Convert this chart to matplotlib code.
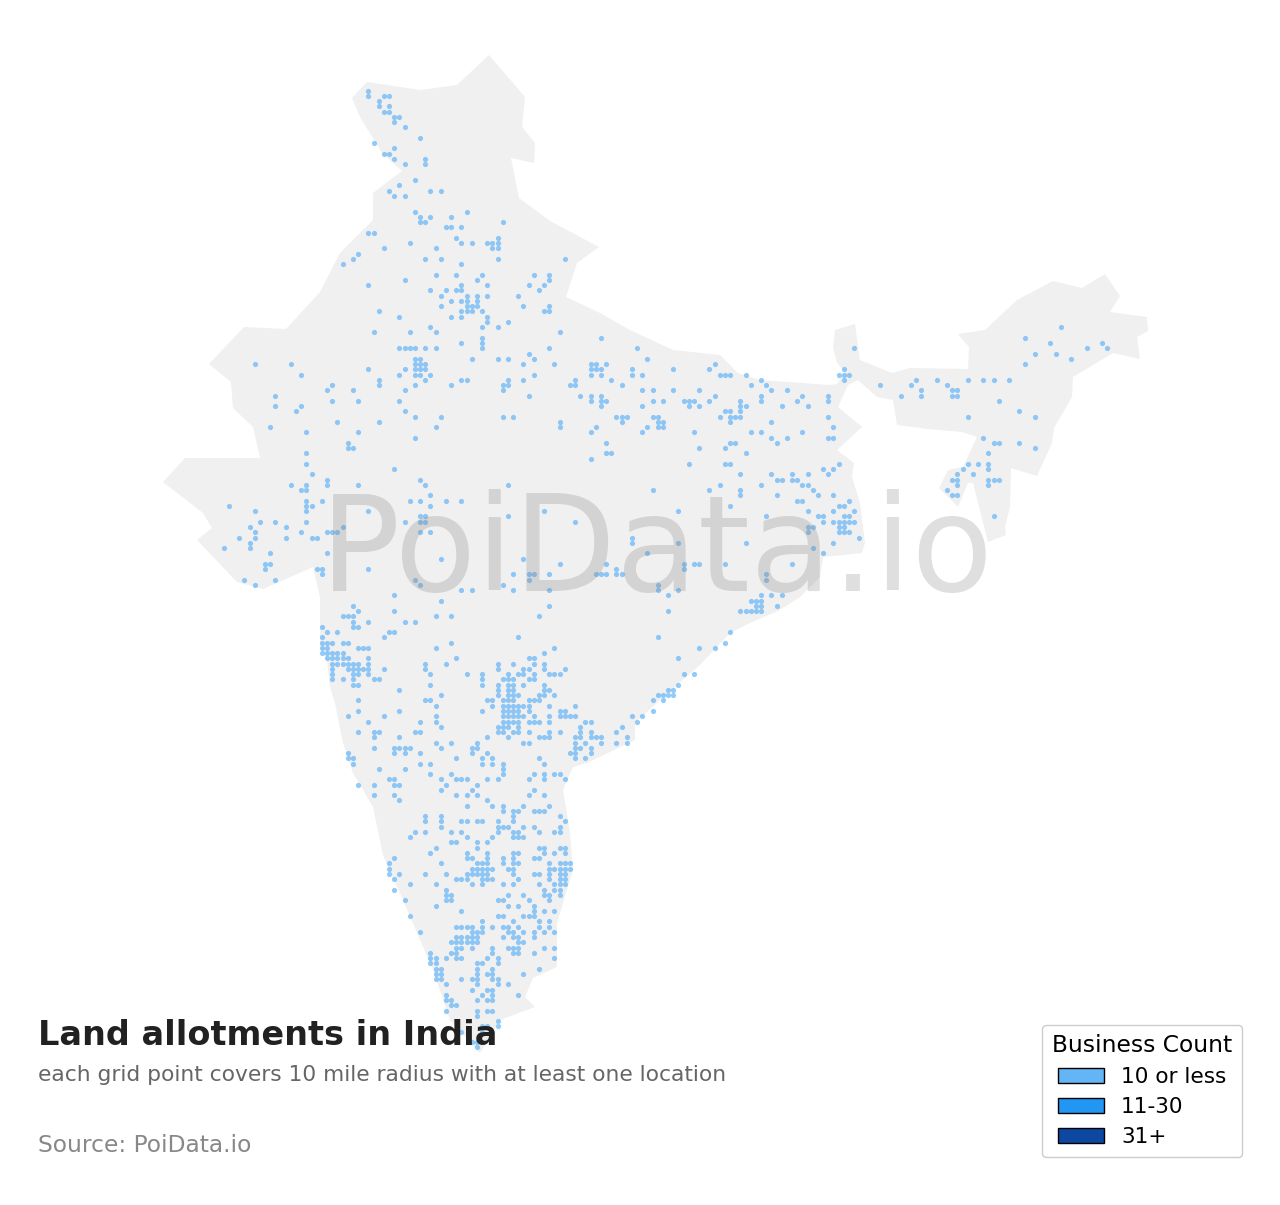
import matplotlib
matplotlib.use('Agg')
import matplotlib.pyplot as plt
from matplotlib.patches import Patch, Polygon

# outline of the country in map units
outline_x = [489, 525, 522, 535, 534, 511, 519, 550, 599, 577, 566, 600, 630, 673, 720, 738, 760, 830,
             837, 845, 837, 833, 835, 855, 860, 892, 910, 968, 969, 958, 985, 1017, 1053, 1082, 1105, 1120,
             1110, 1147, 1148, 1137, 1140, 1113, 1073, 1072, 1054, 1052, 1037, 1011, 1010, 1005, 1006, 988,
             973, 968, 958, 939, 948, 963, 977, 962, 928, 897, 893, 877, 858, 848, 838, 862, 837, 854, 852,
             860, 865, 862, 843, 823, 820, 800, 780, 750, 730, 700, 660, 635, 635, 610, 587, 573, 563, 567,
             570, 573, 567, 557, 557, 533, 525, 535, 500, 480, 450, 433, 403, 383, 373, 353, 343, 335, 330,
             327, 320, 320, 313, 263, 237, 197, 212, 203, 163, 185, 260, 253, 233, 231, 209, 244, 286, 320,
             340, 373, 373, 402, 382, 360, 352, 367, 420, 457]
outline_y = [55, 97, 127, 143, 163, 158, 198, 221, 247, 263, 297, 313, 330, 350, 355, 373, 380, 385,
             384, 372, 363, 347, 330, 324, 360, 373, 368, 369, 347, 334, 330, 300, 281, 288, 274, 296,
             312, 317, 331, 337, 359, 353, 377, 397, 428, 443, 476, 468, 507, 527, 535, 542,
             483, 483, 507, 488, 470, 467, 437, 432, 429, 425, 400, 397, 380, 385, 407, 427, 450, 463, 477,
             503, 543, 553, 555, 557, 577, 597, 610, 623, 633, 665, 700, 723, 740, 752, 763, 767, 790, 813,
             833, 870, 890, 923, 967, 978, 997, 1007, 1020, 1053, 1020, 970, 900, 855, 807, 773, 743, 703, 687,
             660, 647, 597, 567, 589, 582, 540, 528, 513, 482, 458, 458, 427, 408, 382, 364, 327, 329, 292,
             253, 220, 193, 171, 153, 117, 98, 82, 90, 85]

# occupied grid cells, row number and the columns filled in that row
north_rows = [0, 1, 2, 3, 4, 5, 6, 7, 9, 10, 11, 12, 13, 14, 17, 18, 19, 20, 23, 24, 25, 26, 27, 28, 29, 30,
              31, 32, 33, 35, 36, 37, 38, 39, 40, 41, 42, 43, 44, 45, 46, 47, 48, 49, 50, 51]
north_cols = [[42], [42, 45, 46], [44], [44, 46], [45, 46], [47, 48], [47], [49], [52], [43], [47], [45, 46],
              [47, 53], [49, 53], [51], [48], [46, 54, 56], [47, 49], [51, 61], [52, 54, 58], [52, 53, 68],
              [57, 58, 60], [42, 43], [59, 67], [50, 60, 62, 65, 66, 67], [45, 55, 66, 67], [40],
              [39, 53, 56, 67, 80], [37, 60], [55, 59, 64, 74, 77], [49, 63, 77], [42, 60, 65, 73, 76],
              [54, 57, 59, 60, 75], [56, 61, 63, 65, 71], [58, 60, 61, 63], [56, 61, 62, 63, 72, 77],
              [44, 60, 61, 62, 64, 76, 77], [48, 58, 60, 65], [65, 69], [54, 64, 67, 176], [43, 50, 55, 79],
              [64, 87, 169], [60, 64, 174, 184], [48, 49, 50, 51, 53, 55, 64, 77, 94, 136, 181, 185],
              [73, 171, 175], [51, 52, 62, 67, 69, 74, 96, 178]]

middle_rows = [52, 53, 54, 55, 56, 57, 58, 59, 60, 61, 62, 63, 64, 65, 66, 67, 68, 69, 70, 71, 72, 73, 74, 75,
               76, 77, 78, 79, 80, 81, 82, 83, 84, 85, 86, 87, 88, 89, 90, 91, 92, 93, 94, 95, 96, 97, 98, 99]
middle_cols = [[20, 27, 51, 52, 53, 72, 78, 85, 86, 88, 109, 169],
               [42, 49, 51, 52, 53, 85, 86, 87, 93, 101, 108, 134],
               [29, 48, 51, 52, 54, 74, 85, 87, 93, 95, 110, 111, 112, 115, 133, 134, 135],
               [44, 53, 60, 61, 69, 72, 82, 89, 118, 134, 148, 152, 158, 161, 163, 166],
               [35, 44, 51, 58, 68, 69, 81, 82, 91, 116, 119, 141, 147, 154],
               [34, 39, 49, 68, 95, 97, 101, 106, 120, 123, 149, 155, 156],
               [24, 73, 83, 85, 87, 109, 118, 126, 131, 145, 149, 155, 156],
               [35, 40, 48, 85, 87, 88, 97, 99, 103, 104, 105, 108, 114, 118, 125, 131, 164],
               [24, 29, 87, 95, 104, 106, 114, 115, 122, 127],
               [28, 49, 111, 112, 114, 168],
               [51, 56, 68, 70, 90, 91, 92, 97, 98, 110, 112, 113, 114, 131, 158, 171],
               [36, 44, 79, 91, 98, 99, 112, 120],
               [23, 55, 79, 86, 96, 98, 99, 132],
               [30, 40, 85, 95, 105, 116, 118, 126],
               [51, 120, 123, 131, 132, 161],
               [38, 88, 112, 113, 121, 163, 164, 168],
               [38, 39, 106, 111, 171],
               [30, 88, 89, 115, 162],
               [85],
               [30, 104, 111, 112, 133, 158, 160, 162],
               [47, 130, 132, 157, 162],
               [31, 114, 120, 124, 127, 131, 156, 159],
               [34, 52, 121, 122, 124, 125, 155, 156, 162, 163, 164],
               [27, 30, 34, 40, 53, 69, 110, 118, 126, 127, 156, 162],
               [29, 30, 97, 108, 114, 128, 154],
               [54, 114, 121, 129, 132, 155, 156],
               [30, 33, 50, 52, 57, 60, 125, 126, 135],
               [15, 30, 31, 54, 112, 133, 134],
               [20, 30, 42, 76, 102, 127, 132, 136],
               [52, 53, 69, 119, 129, 130, 134, 135, 163],
               [21, 24, 30, 49, 52, 53, 82, 130, 132, 133, 134, 135, 136],
               [19, 26, 37, 127, 128, 133, 134],
               [20, 29, 34, 35, 36, 52, 54, 127, 133, 134, 135],
               [17, 20, 26, 31, 32, 93, 137],
               [19, 93, 102, 115, 132],
               [14, 19, 128],
               [23, 34, 96, 130],
               [56, 72],
               [22, 23, 79, 88, 103, 105, 106, 111, 124],
               [22, 32, 33, 42, 90, 103],
               [33, 70, 73, 74, 77, 86, 87, 88, 90, 91, 119],
               [18, 24, 51, 73, 119],
               [20, 52, 68, 98],
               [60, 62, 70, 77, 98, 102],
               [47, 100, 118, 120, 122],
               [56, 116, 117, 118],
               [39, 77, 117, 118, 121],
               [40, 47, 100, 114, 115, 116, 117, 118]]

deccan_rows = [100, 101, 102, 103, 104, 105, 106, 107, 108, 109, 110, 111, 112, 113, 114, 115, 116, 117, 118,
               119, 120, 121, 122, 123, 124, 125, 126, 127, 128, 129, 130, 131, 132, 133, 134, 135, 136, 137, 138]
deccan_cols = [[37, 38, 39, 55, 58, 75],
               [39, 42, 49, 51],
               [33, 39, 40],
               [34, 36, 46, 47, 112],
               [33, 45, 71, 98],
               [33, 34, 35, 37, 38, 58, 111],
               [33, 34, 40, 41, 42, 55, 78, 106, 109],
               [33, 34, 35, 36, 37, 76],
               [34, 35, 36, 37, 38, 42, 59, 73, 74, 102],
               [35, 36, 37, 38, 39, 40, 42, 53, 57, 67, 70, 74, 76],
               [35, 38, 39, 40, 41, 42, 45, 53, 67, 72, 73, 76, 80],
               [35, 39, 40, 42, 54, 61, 64, 69, 71, 72, 74, 77, 78, 79, 103, 105],
               [35, 37, 39, 43, 44, 64, 68, 69, 70, 73, 74],
               [39, 40, 54, 64, 67, 69, 70, 72, 76, 102],
               [48, 67, 69, 70, 76, 77, 100, 101],
               [56, 67, 69, 70, 71, 75, 76, 78, 98, 99, 100, 101],
               [40, 53, 54, 65, 66, 68, 69, 70, 73, 74, 75, 97, 99],
               [55, 66, 68, 69, 70, 71, 72, 73, 77, 82],
               [40, 48, 64, 68, 69, 70, 71, 73, 79, 80, 97],
               [38, 45, 55, 68, 69, 70, 71, 72, 74, 77, 79, 80, 81, 82, 93, 95],
               [42, 52, 55, 68, 69, 70, 71, 73, 74, 75, 77, 84, 85, 94],
               [56, 67, 68, 69, 71, 83, 91],
               [40, 43, 44, 51, 52, 67, 68, 70, 71, 73, 77, 79, 83, 85, 90],
               [43, 48, 65, 69, 75, 76, 77, 82, 83, 85, 86, 87, 92],
               [55, 58, 63, 72, 73, 82, 84, 87, 90, 92],
               [43, 47, 48, 49, 50, 56, 62, 63, 82, 83, 85],
               [38, 47, 49, 52, 62, 65, 81, 82, 85],
               [38, 39, 59, 64, 66, 75, 82, 84],
               [39, 52, 54, 64, 66, 68, 76],
               [44, 49, 68],
               [54, 58, 68, 74, 76, 78, 79],
               [46, 47, 56, 59, 60, 61, 65, 67, 73, 76, 80],
               [40, 43, 47, 48, 57, 63],
               [56, 62, 74],
               [43, 47, 59, 61, 63, 73, 76],
               [48, 65],
               [61, 66, 68, 72, 77],
               [68, 70, 71, 74, 75, 76],
               [53, 56, 70, 79]]

south_rows = [139, 140, 141, 142, 143, 144, 145, 146, 147, 148, 149, 150, 151, 152, 153, 154, 155, 156, 157,
              158, 159, 160, 161, 162, 163, 164, 165, 166, 167, 168, 169, 170, 171, 172, 173, 174, 175, 176,
              177, 178, 179, 181, 182]
south_cols = [[53, 56, 60, 61, 63, 64, 67, 70, 80],
              [56, 67, 68, 69, 72, 74, 79],
              [51, 53, 58, 60, 67, 70, 71, 75, 78, 79],
              [50, 61, 66, 70, 71, 72],
              [58, 59, 63, 65],
              [55, 63, 75, 76, 79, 80],
              [54, 61, 65, 70, 71, 76, 78, 80],
              [47, 61, 62, 65, 68, 70, 74, 75],
              [46, 56, 63, 64, 65, 68, 70, 71, 77, 79, 80, 81],
              [46, 62, 63, 64, 65, 66, 69, 70, 77, 78, 79, 80, 81],
              [46, 48, 53, 57, 61, 62, 63, 64, 65, 70, 74, 75, 77, 79, 80],
              [47, 59, 60, 61, 64, 65, 66, 71, 77, 79, 80],
              [50, 55, 62, 64, 68, 70, 75, 78, 79, 80],
              [47, 57, 76, 78, 79],
              [57, 58, 69, 72, 76, 77, 79],
              [49, 57, 58, 67, 68, 73, 77],
              [55, 69, 71, 74],
              [60, 74, 76, 78],
              [50, 67, 68, 72, 73, 74],
              [64, 70, 75, 77],
              [59, 60, 61, 62, 64, 66, 68, 69, 71, 75, 77],
              [52, 62, 63, 64, 69, 70, 72, 74, 76, 78],
              [59, 60, 61, 62, 63, 68, 70, 71, 74],
              [58, 59, 60, 61, 62, 63, 71, 72],
              [59, 60, 62, 66, 69, 70, 71, 76, 78],
              [54, 58, 59, 66, 70, 71, 74],
              [54, 55, 57, 59, 60, 65, 67, 78],
              [54, 55, 63, 64, 67],
              [55, 56, 63, 66, 75],
              [55, 56, 63, 65, 66, 72],
              [55, 56, 60, 62, 63, 66, 67],
              [57, 63, 67, 69],
              [62, 65, 66],
              [57, 64, 66, 71],
              [57, 58, 63, 65, 66],
              [58, 59],
              [57, 63, 65, 66],
              [63],
              [67],
              [64, 65, 67],
              [60, 64, 66],
              [62, 63],
              [63]]

grid_x0, grid_dx = 151.33, 5.167
grid_y0, grid_dy = 90.67, 5.257

legend_labels = ['10 or less', '11-30', '31+']
legend_colors = ['#64b5f6', '#2196f3', '#0d47a1']

plot_rows, plot_cols = [], []
for rows, cols in [(north_rows, north_cols), (middle_rows, middle_cols), (deccan_rows, deccan_cols),
                   (south_rows, south_cols)]:
    for row, row_cols in zip(rows, cols):
        for col in row_cols:
            plot_rows.append(row)
            plot_cols.append(col)

fig = plt.figure(figsize=(12.8, 12.05), dpi=100)
ax = fig.add_axes([0, 0, 1, 1])
ax.set_xlim(0, 1280)
ax.set_ylim(1205, 0)
ax.axis('off')

ax.add_patch(Polygon(list(zip(outline_x, outline_y)), closed=True, facecolor='#f0f0f0', edgecolor='none', zorder=1))
ax.scatter([grid_x0 + c * grid_dx for c in plot_cols], [grid_y0 + r * grid_dy for r in plot_rows],
           s=14, color='#64b5f6', alpha=0.7, linewidths=0, zorder=2)

# watermark across the middle of the map
fig.text(657 / 1280, 1 - 591 / 1205, 'PoiData.io', fontsize=96, color='#808080', alpha=0.25,
         ha='center', va='baseline', zorder=3)

fig.text(38 / 1280, 1 - 1045 / 1205, 'Land allotments in India', fontsize=24.1, fontweight='bold', color='#212121')
fig.text(38 / 1280, 1 - 1081 / 1205, 'each grid point covers 10 mile radius with at least one location',
         fontsize=15.7, color='#666666')
fig.text(38 / 1280, 1 - 1152 / 1205, 'Source: PoiData.io', fontsize=16.8, color='#888888')

handles = [Patch(facecolor=c, edgecolor='black', label=l) for c, l in zip(legend_colors, legend_labels)]
ax.legend(handles=handles, title='Business Count', fontsize=15.6, title_fontsize=16.8, loc='lower right',
          bbox_to_anchor=(1242 / 1280, 1 - 1157 / 1205), borderaxespad=0, framealpha=1, handlelength=2.1,
          labelspacing=0.46, handletextpad=0.8, borderpad=0.45)

fig.savefig('out.png', dpi=100)
